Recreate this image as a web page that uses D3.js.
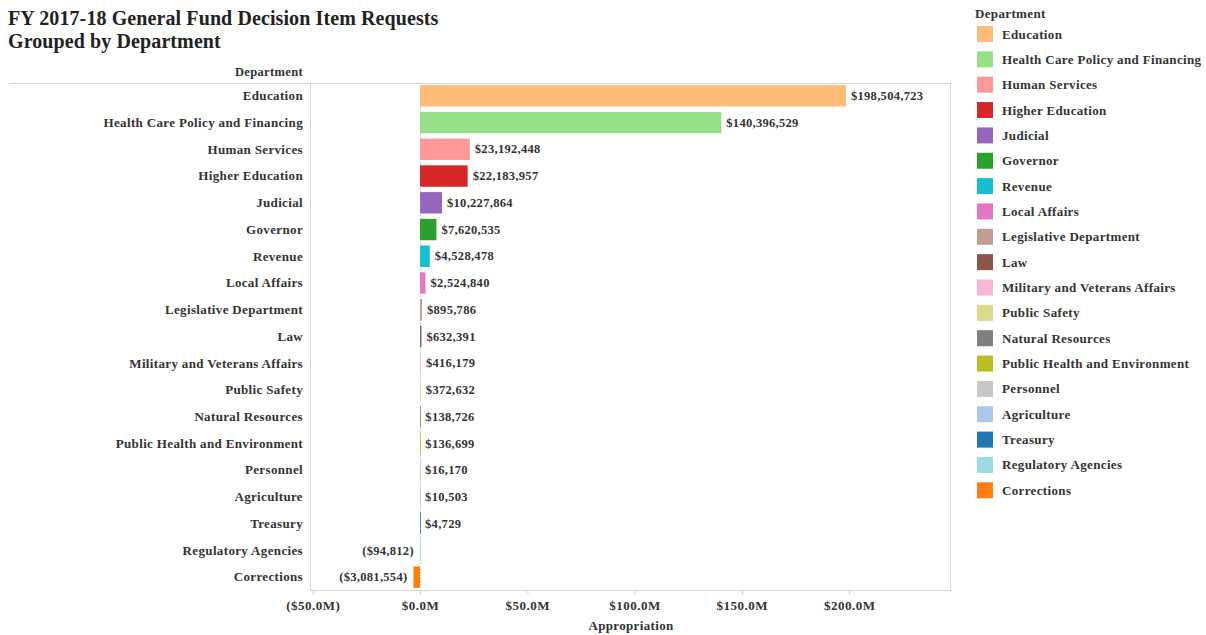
<!DOCTYPE html>
<html>
<head>
<meta charset="utf-8">
<script src="https://cdn.jsdelivr.net/npm/d3@7"></script>
<style>
  html, body { margin: 0; padding: 0; background: #fff; }
  svg text { font-family: "Liberation Serif", "Times New Roman", serif; font-weight: bold; fill: #333; }
</style>
</head>
<body>
<svg id="chart" width="1206" height="635"></svg>
<script>
// Departments, in display order (largest request first)
const departments = [
  "Education", "Health Care Policy and Financing", "Human Services", "Higher Education",
  "Judicial", "Governor", "Revenue", "Local Affairs", "Legislative Department", "Law",
  "Military and Veterans Affairs", "Public Safety", "Natural Resources",
  "Public Health and Environment", "Personnel", "Agriculture", "Treasury",
  "Regulatory Agencies", "Corrections"
];

// General Fund appropriation requested, dollars
const appropriations = [
  198504723, 140396529, 23192448, 22183957, 10227864, 7620535, 4528478, 2524840,
  895786, 632391, 416179, 372632, 138726, 136699, 16170, 10503, 4729, -94812, -3081554
];

// Category colours (Tableau 20)
const deptColors = [
  "#ffbb78", "#98df8a", "#ff9896", "#d62728", "#9467bd", "#2ca02c", "#17becf", "#e377c2",
  "#c49c94", "#8c564b", "#f7b6d2", "#dbdb8d", "#7f7f7f", "#bcbd22", "#c7c7c7", "#aec7e8",
  "#1f77b4", "#9edae5", "#ff7f0e"
];

// Axis ticks, dollars
const tickValues = [-50e6, 0, 50e6, 100e6, 150e6, 200e6];

const rows = departments.map((d, i) => ({ dept: d, value: appropriations[i], color: deptColors[i] }));

const svg = d3.select("#chart");

const plot = { left: 310, right: 950, top: 83, bottom: 590 };

const x = d3.scaleLinear().domain([-51.3e6, 247e6]).range([plot.left, plot.right]);
const y = d3.scaleBand().domain(departments).range([plot.top, plot.bottom]).paddingInner(0.2).paddingOuter(0.08);
const color = d3.scaleOrdinal().domain(departments).range(deptColors);

const fmtDollar = d3.format("$,.0f");
const valueLabel = v => v < 0 ? "(" + fmtDollar(-v) + ")" : fmtDollar(v);
const tickLabel = v => {
  const s = "$" + d3.format(".1f")(Math.abs(v) / 1e6) + "M";
  return v < 0 ? "(" + s + ")" : s;
};

const labelSize = "13px";
const labelSpacing = "0.35px";

// Title
svg.append("text").attr("x", 8).attr("y", 25).style("font-size", "20px").style("fill", "#222")
  .style("letter-spacing", "0.1px")
  .text("FY 2017-18 General Fund Decision Item Requests");
svg.append("text").attr("x", 8).attr("y", 48).style("font-size", "20px").style("fill", "#222")
  .style("letter-spacing", "0.1px")
  .text("Grouped by Department");

// Row header
svg.append("text").attr("x", 303).attr("y", 76).attr("text-anchor", "end")
  .style("font-size", "12.5px").style("letter-spacing", labelSpacing).text("Department");

// Frame
const frame = svg.append("g").attr("stroke", "#d4d4d4").attr("stroke-width", 1).attr("fill", "none");
frame.append("line").attr("x1", 10).attr("x2", plot.right).attr("y1", plot.top + 0.5).attr("y2", plot.top + 0.5);
frame.append("line").attr("x1", plot.left + 0.5).attr("x2", plot.left + 0.5).attr("y1", plot.top).attr("y2", plot.bottom);
frame.append("line").attr("x1", plot.right + 0.5).attr("x2", plot.right + 0.5).attr("y1", plot.top).attr("y2", plot.bottom);

// Zero line
svg.append("line").attr("x1", Math.round(x(0)) + 0.5).attr("x2", Math.round(x(0)) + 0.5)
  .attr("y1", plot.top).attr("y2", plot.bottom)
  .attr("stroke", "#bbb").attr("stroke-dasharray", "1,2");

// Row labels
svg.append("g").selectAll("text").data(rows).join("text")
  .attr("x", 303)
  .attr("y", d => y(d.dept) + y.bandwidth() / 2)
  .attr("dy", "0.33em")
  .attr("text-anchor", "end")
  .style("font-size", labelSize)
  .style("letter-spacing", labelSpacing)
  .text(d => d.dept);

// Bars
svg.append("g").selectAll("rect").data(rows).join("rect")
  .attr("x", d => x(Math.min(0, d.value)))
  .attr("y", d => y(d.dept))
  .attr("width", d => Math.max(0.8, Math.abs(x(d.value) - x(0))))
  .attr("height", y.bandwidth())
  .attr("fill", d => color(d.dept));

// Value labels
svg.append("g").selectAll("text").data(rows).join("text")
  .attr("x", d => d.value < 0 ? x(d.value) - 6 : x(d.value) + 5)
  .attr("y", d => y(d.dept) + y.bandwidth() / 2)
  .attr("dy", "0.33em")
  .attr("text-anchor", d => d.value < 0 ? "end" : "start")
  .style("font-size", "12.5px")
  .style("letter-spacing", "0.3px")
  .text(d => valueLabel(d.value));

// X axis
const axis = svg.append("g").attr("transform", `translate(0,${plot.bottom})`)
  .call(d3.axisBottom(x).tickValues(tickValues).tickFormat(tickLabel).tickSize(5).tickPadding(6));
axis.select(".domain").attr("stroke", "#d4d4d4").attr("d", `M${plot.left},0.5H${plot.right + 1}`);
axis.selectAll(".tick line").attr("stroke", "#d4d4d4");
axis.selectAll(".tick text").style("font-size", "13px").style("letter-spacing", "0.5px")
  .style("font-family", null).style("fill", "#333");

svg.append("text").attr("x", 631).attr("y", 630).attr("text-anchor", "middle")
  .style("font-size", "13px").style("letter-spacing", labelSpacing).text("Appropriation");

// Legend
const legend = svg.append("g").attr("transform", "translate(975,0)");
legend.append("text").attr("x", 0).attr("y", 18).style("font-size", "13px")
  .style("letter-spacing", labelSpacing).text("Department");
const item = legend.selectAll("g.item").data(departments).join("g").attr("class", "item")
  .attr("transform", (d, i) => `translate(2,${26 + i * 25.35})`);
item.append("rect").attr("width", 16).attr("height", 16).attr("fill", d => color(d));
item.append("text").attr("x", 25).attr("y", 8).attr("dy", "0.35em")
  .style("font-size", labelSize).style("letter-spacing", labelSpacing).text(d => d);
</script>
</body>
</html>
